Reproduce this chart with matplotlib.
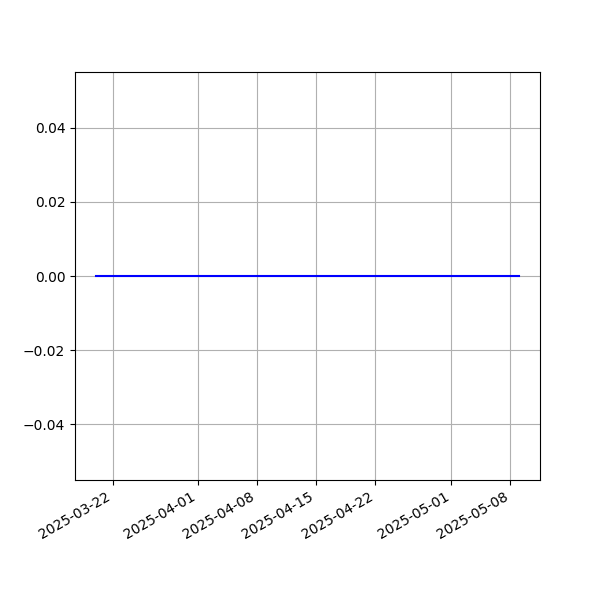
import matplotlib
matplotlib.use("Agg")
import matplotlib.pyplot as plt
import pandas as pd

start_date = "2025-03-20"
end_date = "2025-05-09"
dates = pd.date_range(start_date, end_date, freq="D")
values = [0.0] * 51

fig, ax = plt.subplots(figsize=(6, 6), dpi=100)
ax.plot(dates, values, color="blue")
ax.grid(True)
fig.autofmt_xdate()
fig.savefig("out.png")
